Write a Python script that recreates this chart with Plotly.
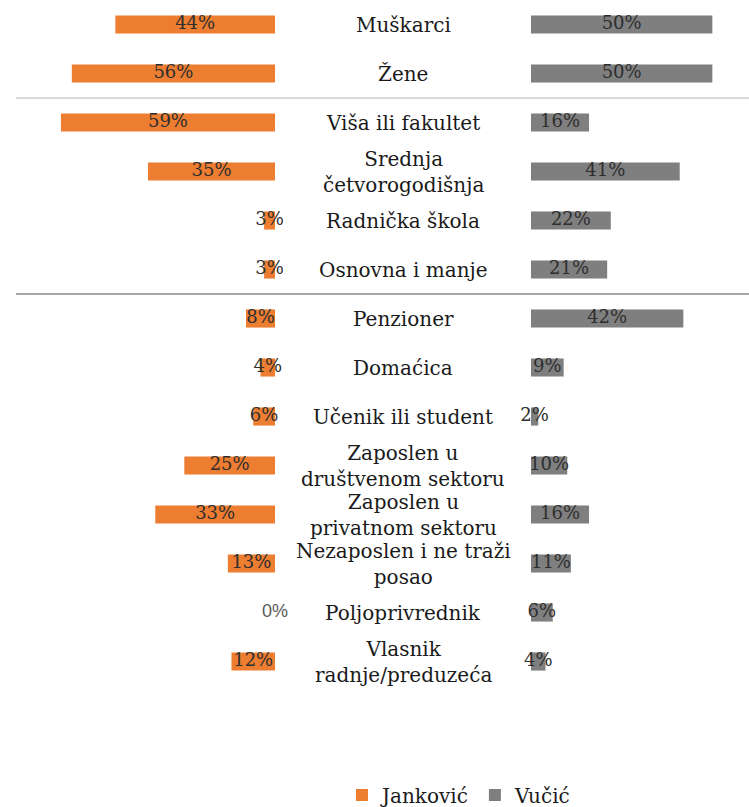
import plotly.graph_objects as go

categories = ["Muškarci", "Žene", "Viša ili fakultet", "Srednja<br>četvorogodišnja",
              "Radnička škola", "Osnovna i manje", "Penzioner", "Domaćica",
              "Učenik ili student", "Zaposlen u<br>društvenom sektoru",
              "Zaposlen u<br>privatnom sektoru", "Nezaposlen i ne traži<br>posao",
              "Poljoprivrednik", "Vlasnik<br>radnje/preduzeća"]
jankovic = [44, 56, 59, 35, 3, 3, 8, 4, 6, 25, 33, 13, 0, 12]
vucic = [50, 50, 16, 41, 22, 21, 42, 9, 2, 10, 16, 11, 6, 4]
series_names = ["Janković", "Vučić"]
separators_after = [1, 5]

ORANGE = "#ED7D31"
GRAY = "#7F7F7F"
SERIF = "DejaVu Serif"
ids = list(range(len(categories)))

fig = go.Figure()
fig.add_trace(go.Bar(y=ids, x=jankovic, orientation="h", name=series_names[0],
                     marker=dict(color=ORANGE, line=dict(width=0)), width=0.37,
                     xaxis="x", yaxis="y"))
fig.add_trace(go.Bar(y=ids, x=vucic, orientation="h", name=series_names[1],
                     marker=dict(color=GRAY, line=dict(width=0)), width=0.37,
                     xaxis="x2", yaxis="y"))

fams_l = [("Liberation Sans" if v == 0 else SERIF) for v in jankovic]
cols_l = [("#595959" if v == 0 else "#2e2e2e") for v in jankovic]
fig.add_trace(go.Scatter(y=ids, x=[v / 2 for v in jankovic], mode="text",
                         text=[f"{v}%" for v in jankovic], showlegend=False,
                         textfont=dict(family=fams_l, size=18, color=cols_l),
                         hoverinfo="skip", xaxis="x", yaxis="y", cliponaxis=False))
fig.add_trace(go.Scatter(y=ids, x=[v / 2 for v in vucic], mode="text",
                         text=[f"{v}%" for v in vucic], showlegend=False,
                         textfont=dict(family=SERIF, size=18, color="#2e2e2e"),
                         hoverinfo="skip", xaxis="x2", yaxis="y", cliponaxis=False))

for i, c in enumerate(categories):
    fig.add_annotation(x=403 / 749, xref="paper", y=i, yref="y", text=c,
                       showarrow=False, xanchor="center", yanchor="middle",
                       font=dict(family=SERIF, size=20, color="#1a1a1a"))

sep_colors = ["#d9d9d9", "#a6a6a6"]
for k, s in enumerate(separators_after):
    fig.add_shape(type="line", xref="paper", x0=16 / 749, x1=1, yref="y",
                  y0=s + 0.5, y1=s + 0.5, line=dict(color=sep_colors[k], width=2))

fig.update_layout(
    width=749, height=807,
    margin=dict(l=0, r=0, t=0, b=121),
    plot_bgcolor="white", paper_bgcolor="white",
    barmode="overlay",
    xaxis=dict(domain=[0, 275 / 749], range=[75.8, 0], visible=False, fixedrange=True),
    xaxis2=dict(domain=[531 / 749, 1], range=[0, 60.1], visible=False, anchor="y"),
    yaxis=dict(range=[len(categories) - 0.5, -0.5], visible=False),
    legend=dict(orientation="h", x=459 / 749, xanchor="center", yref="container",
                y=12 / 807, yanchor="middle",
                font=dict(family=SERIF, size=20, color="#1a1a1a"),
                itemwidth=30, tracegroupgap=0),
    showlegend=True,
)
fig.write_html("out.html", config={"displayModeBar": False})

with open("out.html", "r", encoding="utf-8") as f:
    html = f.read()
html = html.replace("<body>", '<body style="margin:0;padding:0;overflow:hidden">', 1)
with open("out.html", "w", encoding="utf-8") as f:
    f.write(html)
